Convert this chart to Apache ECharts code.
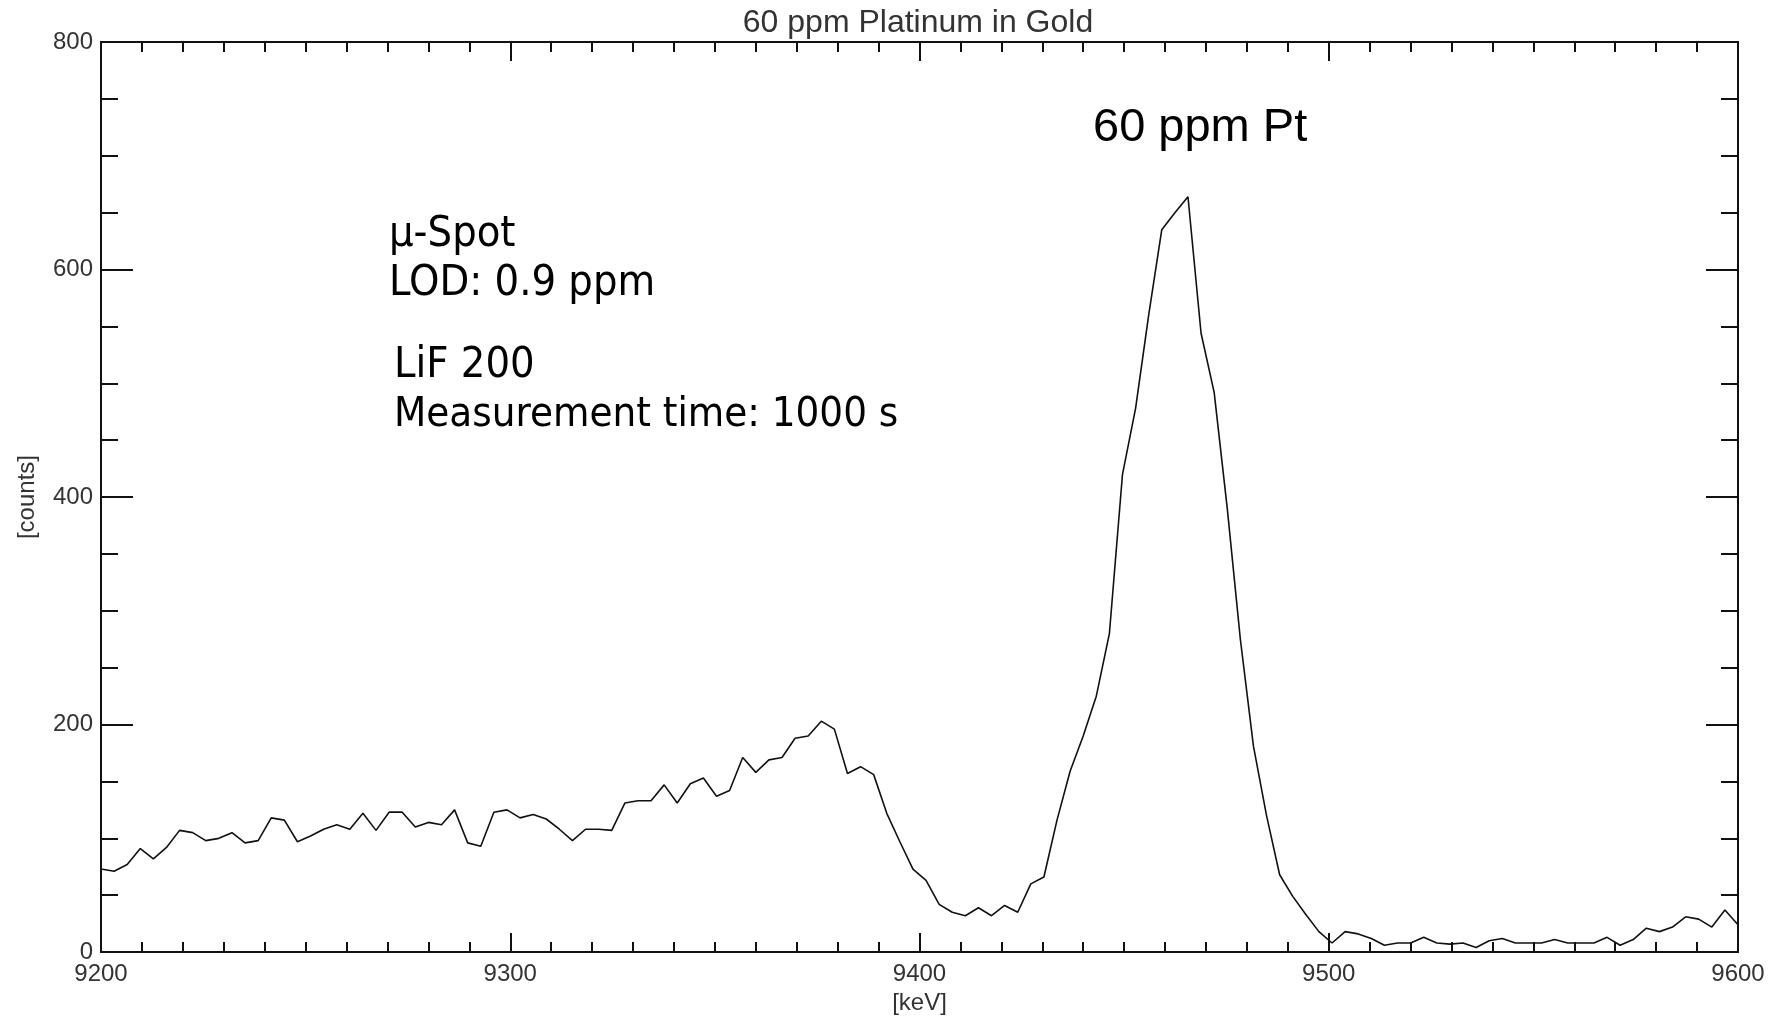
<!DOCTYPE html>
<html>
<head>
<meta charset="utf-8">
<title>60 ppm Platinum in Gold</title>
<script src="https://cdn.jsdelivr.net/npm/echarts@6/dist/echarts.min.js"></script>
<style>
  html, body { margin: 0; padding: 0; background: #fff; }
  #chart { width: 1772px; height: 1020px; }
</style>
</head>
<body>
<div id="chart"></div>
<script>
// Spectrum channels (keV) and measured counts
const energies = [
  9200, 9203.2, 9206.4, 9209.6, 9212.8, 9216, 9219.2, 9222.4, 9225.6, 9228.8,
  9232, 9235.2, 9238.4, 9241.6, 9244.8, 9248, 9251.2, 9254.4, 9257.6, 9260.8,
  9264, 9267.2, 9270.4, 9273.6, 9276.8, 9280, 9283.2, 9286.4, 9289.6, 9292.8,
  9296, 9299.2, 9302.4, 9305.6, 9308.8, 9312, 9315.2, 9318.4, 9321.6, 9324.8,
  9328, 9331.2, 9334.4, 9337.6, 9340.8, 9344, 9347.2, 9350.4, 9353.6, 9356.8,
  9360, 9363.2, 9366.4, 9369.6, 9372.8, 9376, 9379.2, 9382.4, 9385.6, 9388.8,
  9392, 9395.2, 9398.4, 9401.6, 9404.8, 9408, 9411.2, 9414.4, 9417.6, 9420.8,
  9424, 9427.2, 9430.4, 9433.6, 9436.8, 9440, 9443.2, 9446.4, 9449.6, 9452.8,
  9456, 9459.2, 9462.4, 9465.6, 9468.8, 9472, 9475.2, 9478.4, 9481.6, 9484.8,
  9488, 9491.2, 9494.4, 9497.6, 9500.8, 9504, 9507.2, 9510.4, 9513.6, 9516.8,
  9520, 9523.2, 9526.4, 9529.6, 9532.8, 9536, 9539.2, 9542.4, 9545.6, 9548.8,
  9552, 9555.2, 9558.4, 9561.6, 9564.8, 9568, 9571.2, 9574.4, 9577.6, 9580.8,
  9584, 9587.2, 9590.4, 9593.6, 9596.8, 9600
];
const counts = [
  73, 71, 77, 91, 82, 92, 107, 105, 98, 100,
  105, 96, 98, 118, 116, 97, 102, 108, 112, 108,
  122, 107, 123, 123, 110, 114, 112, 125, 96, 93,
  123, 125, 118, 121, 117, 108, 98, 108, 108, 107,
  131, 133, 133, 147, 131, 148, 153, 137, 142, 171,
  158, 169, 171, 188, 190, 203, 196, 157, 163, 156,
  122, 97, 73, 63, 42, 35, 32, 39, 32, 41,
  35, 60, 66, 116, 159, 190, 225, 280, 420, 478,
  560, 635, 650, 664, 544, 492, 390, 275, 181, 120,
  68, 49, 33, 18, 8, 18, 16, 12, 6, 8,
  8, 13, 8, 7, 8, 4, 10, 12, 8, 8,
  8, 11, 8, 8, 8, 13, 6, 11, 21, 18,
  22, 31, 29, 22, 37, 24
];

// Axis ranges and tick spacing
const energyRange = [9200, 9600];
const energyStep = 100;
const countRange = [0, 800];
const countStep = 200;

// Text drawn on the chart
const titleText = '60 ppm Platinum in Gold';
const xName = '[keV]';
const yName = '[counts]';
const peakLabel = '60 ppm Pt';
const infoLines = ['\u00b5-Spot', 'LOD: 0.9 ppm', 'LiF 200', 'Measurement time: 1000 s'];

const INK = '#111';
const TICK_FONT = '"Liberation Sans", Arial, sans-serif';
const NOTE_FONT = '"DejaVu Sans Condensed", "Noto Sans", sans-serif';

const chart = echarts.init(document.getElementById('chart'), null, { renderer: 'canvas' });

// plain integers, no thousands separators
const plainNumber = v => String(Math.round(v));

function xAxisDef(pos, showLabels) {
  return {
    type: 'value',
    position: pos,
    min: energyRange[0],
    max: energyRange[1],
    interval: energyStep,
    axisLine: { show: true, onZero: false, lineStyle: { color: INK, width: 2 } },
    axisTick: { show: true, inside: true, length: 19, lineStyle: { color: INK, width: 2 } },
    minorTick: { show: true, splitNumber: 10, length: 10, lineStyle: { color: INK, width: 2 } },
    splitLine: { show: false },
    axisLabel: {
      show: showLabels, margin: 10, color: '#333',
      fontFamily: TICK_FONT, fontSize: 24, formatter: plainNumber
    },
    name: showLabels ? xName : '',
    nameLocation: 'middle',
    nameGap: 36,
    nameTextStyle: { color: '#333', fontFamily: TICK_FONT, fontSize: 24 }
  };
}

function yAxisDef(pos, showLabels) {
  return {
    type: 'value',
    position: pos,
    min: countRange[0],
    max: countRange[1],
    interval: countStep,
    axisLine: { show: true, onZero: false, lineStyle: { color: INK, width: 2 } },
    axisTick: { show: true, inside: true, length: 32, lineStyle: { color: INK, width: 2 } },
    minorTick: { show: true, splitNumber: 4, length: 17, lineStyle: { color: INK, width: 2 } },
    splitLine: { show: false },
    axisLabel: {
      show: showLabels, margin: 8, color: '#333',
      fontFamily: TICK_FONT, fontSize: 24, formatter: plainNumber
    },
    name: showLabels ? yName : '',
    nameLocation: 'middle',
    nameRotate: 90,
    nameGap: 62,
    nameTextStyle: { color: '#333', fontFamily: TICK_FONT, fontSize: 24 }
  };
}

function note(text, x, y, size, family) {
  return {
    type: 'text',
    x: x,
    y: y,
    silent: true,
    style: {
      text: text,
      font: size + 'px ' + family,
      fill: '#000',
      align: 'left', textAlign: 'left',
      verticalAlign: 'middle', textVerticalAlign: 'middle'
    }
  };
}

const option = {
  animation: false,
  backgroundColor: '#fff',
  grid: { left: 101, right: 34, top: 42, bottom: 63, containLabel: false },
  xAxis: [xAxisDef('bottom', true), xAxisDef('top', false)],
  yAxis: [yAxisDef('left', true), yAxisDef('right', false)],
  series: [{
    type: 'line',
    xAxisIndex: 0,
    yAxisIndex: 0,
    data: energies.map((e, i) => [e, counts[i]]),
    showSymbol: false,
    symbol: 'none',
    lineStyle: { color: INK, width: 1.6 },
    z: 1
  }],
  graphic: [
    {
      type: 'text', x: 918, y: 23, silent: true,
      style: {
        text: titleText, font: '32px ' + TICK_FONT, fill: '#333',
        align: 'center', textAlign: 'center',
        verticalAlign: 'middle', textVerticalAlign: 'middle'
      }
    },
    note(peakLabel, 1093, 128, 47, '"Liberation Sans", Arial, sans-serif'),
    note(infoLines[0], 389, 235, 43, NOTE_FONT),
    note(infoLines[1], 389, 284, 43, NOTE_FONT),
    note(infoLines[2], 394, 366, 43, NOTE_FONT),
    note(infoLines[3], 394, 415, 41.6, NOTE_FONT)
  ]
};

chart.setOption(option);
</script>
</body>
</html>
